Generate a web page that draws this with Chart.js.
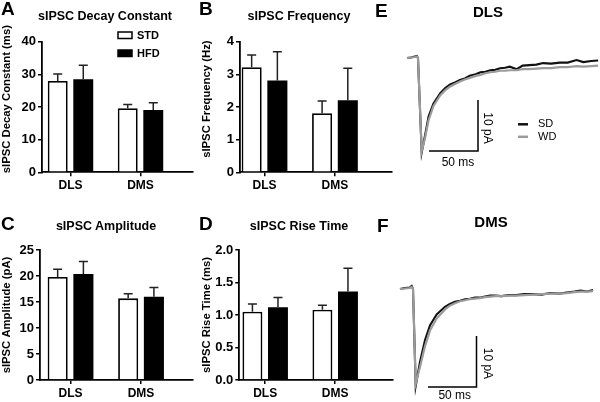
<!DOCTYPE html>
<html>
<head>
<meta charset="utf-8">
<script src="https://cdn.jsdelivr.net/npm/chart.js@4.4.0/dist/chart.umd.min.js"></script>
<style>
  body { margin: 0; background: #fff; }
  #fig { position: relative; width: 600px; height: 402px; overflow: hidden; font-family: "Liberation Sans", Arial, sans-serif; color: #000; }
  #fig canvas { position: absolute; }
  .letter { position: absolute; font-weight: bold; font-size: 19px; line-height: 1; }
  .ptitle { position: absolute; width: 200px; text-align: center; font-weight: bold; font-size: 12.5px; line-height: 1; white-space: nowrap; }
  .ttitle { position: absolute; width: 100px; text-align: center; font-weight: bold; font-size: 15px; line-height: 1; }
</style>
</head>
<body>
<div id="fig">
  <canvas id="cA" width="200" height="200" style="left:0;top:0"></canvas>
  <canvas id="cB" width="200" height="200" style="left:200px;top:0"></canvas>
  <canvas id="cC" width="200" height="202" style="left:0;top:200px"></canvas>
  <canvas id="cD" width="200" height="202" style="left:200px;top:200px"></canvas>
  <canvas id="cE" width="230" height="200" style="left:370px;top:0"></canvas>
  <canvas id="cF" width="230" height="202" style="left:370px;top:200px"></canvas>

  <div class="letter" style="left:1px;top:-1px">A</div>
  <div class="letter" style="left:199px;top:-1px">B</div>
  <div class="letter" style="left:1px;top:214px">C</div>
  <div class="letter" style="left:199px;top:214px">D</div>
  <div class="letter" style="left:375px;top:1px">E</div>
  <div class="letter" style="left:377px;top:216px">F</div>

  <div class="ptitle" style="left:5px;top:10px">sIPSC Decay Constant</div>
  <div class="ptitle" style="left:199px;top:10px">sIPSC Frequency</div>
  <div class="ptitle" style="left:6px;top:220px">sIPSC Amplitude</div>
  <div class="ptitle" style="left:199px;top:220px">sIPSC Rise Time</div>
  <div class="ttitle" style="left:438px;top:4px">DLS</div>
  <div class="ttitle" style="left:441px;top:214px">DMS</div>
</div>

<script>
// bar panels: mean and SEM per region
const groups = ['DLS', 'DMS'];
const diets = ['STD', 'HFD'];

const decayStd = [28.0, 19.6];
const decayStdSem = [2.1, 1.2];
const decayHfd = [28.5, 19.1];
const decayHfdSem = [4.3, 2.2];

const freqStd = [3.22, 1.81];
const freqStdSem = [0.37, 0.37];
const freqHfd = [2.81, 2.21];
const freqHfdSem = [0.88, 0.98];

const ampStd = [19.8, 15.7];
const ampStdSem = [1.5, 0.9];
const ampHfd = [20.4, 16.0];
const ampHfdSem = [2.4, 1.8];

const riseStd = [1.05, 1.08];
const riseStdSem = [0.12, 0.07];
const riseHfd = [1.12, 1.36];
const riseHfdSem = [0.15, 0.36];

// averaged sIPSC traces (ms, pA from baseline)
const traceLegend = ['SD', 'WD'];
const dlsTime = [0, 4, 8, 10, 11.2, 15, 18.5, 22, 27, 34, 39, 44, 49, 54, 59, 64, 70, 75, 80, 85, 90, 95, 100, 105, 112, 118, 125, 132, 139, 147, 156, 164, 173, 180, 188, 195];
const dlsSd = [0, 0.1, 0.3, 0.4, 0, -18.5, -15.1, -11.5, -8.9, -6.9, -5.9, -5.2, -4.8, -4.3, -4.0, -3.5, -3.2, -2.8, -2.7, -2.4, -2.3, -2.0, -1.9, -1.7, -2.2, -1.5, -1.4, -1.3, -1.0, -1.1, -0.9, -0.9, -0.4, -0.8, -0.6, -0.5];
const dlsWd = [0, 0.1, 0.2, 0.3, 0, -18.3, -15.6, -12.2, -9.4, -7.3, -6.3, -5.6, -5.1, -4.6, -4.2, -3.9, -3.5, -3.3, -3.0, -2.8, -2.7, -2.5, -2.5, -2.4, -2.4, -2.2, -2.2, -2.1, -2.0, -2.0, -1.8, -1.8, -1.6, -1.7, -1.6, -1.5];

const dmsTime = [0, 5, 10, 12, 13.4, 16.2, 20.6, 25.8, 31, 37.8, 46.4, 51, 56.7, 62, 67, 72, 77.3, 82, 87.6, 93, 98, 105, 112, 120, 128, 137, 146, 155, 164, 172, 180, 186, 193, 199];
const dmsSd = [0, 0.2, 0.3, 0.6, 0, -19.0, -14.3, -10.0, -7.1, -5.0, -3.5, -3.0, -2.5, -2.3, -2.0, -1.9, -1.7, -1.7, -1.5, -1.3, -1.3, -1.4, -1.2, -1.2, -1.0, -1.0, -1.1, -0.8, -0.9, -0.7, -0.5, -0.3, -0.5, -0.2];
const dmsWd = [0, 0.1, 0.2, 0.4, 0, -18.6, -15.3, -11.2, -8.1, -5.8, -4.0, -3.3, -2.8, -2.4, -2.2, -2.0, -1.9, -1.8, -1.6, -1.5, -1.4, -1.4, -1.3, -1.3, -1.2, -1.1, -1.0, -0.9, -0.9, -0.8, -0.6, -0.5, -0.5, -0.4];

const scaleMs = 50;
const scalePa = 10;

const FONT = '"Liberation Sans", Arial, sans-serif';
Chart.defaults.font.family = FONT;
Chart.defaults.color = '#000';

// upward SEM bars on top of each bar
const errorBars = {
  id: 'errorBars',
  afterDatasetsDraw(chart) {
    const ctx = chart.ctx;
    const y = chart.scales.y;
    ctx.save();
    ctx.strokeStyle = '#222';
    ctx.lineWidth = 1.5;
    chart.data.datasets.forEach((ds, di) => {
      chart.getDatasetMeta(di).data.forEach((bar, i) => {
        const top = y.getPixelForValue(ds.data[i].y + ds.sem[i]);
        ctx.beginPath();
        ctx.moveTo(bar.x, bar.y);
        ctx.lineTo(bar.x, top);
        ctx.moveTo(bar.x - 4.5, top);
        ctx.lineTo(bar.x + 4.5, top);
        ctx.stroke();
      });
    });
    ctx.restore();
  }
};

// little box legend used in panel A
const boxLegend = {
  id: 'boxLegend',
  afterDraw(chart) {
    const ctx = chart.ctx;
    const x = chart.chartArea.left + 76;
    ctx.save();
    ctx.font = 'bold 11px ' + FONT;
    ctx.textBaseline = 'middle';
    chart.data.datasets.forEach((ds, i) => {
      const y = 32 + i * 18;
      ctx.fillStyle = ds.backgroundColor;
      ctx.fillRect(x, y, 14, 6.5);
      ctx.strokeStyle = '#000';
      ctx.lineWidth = 1.5;
      ctx.strokeRect(x, y, 14, 6.5);
      ctx.fillStyle = '#000';
      ctx.fillText(ds.label, x + 19, y + 3.5);
    });
    ctx.restore();
  }
};

function barPanel(id, p) {
  const mk = (vals) => groups.map((g, i) => ({ x: i + 1, y: vals[i] }));
  // leading no-break spaces nudge the axis title up, like the original layout
  const lift = '\u00a0'.repeat(p.lift || 0);
  return new Chart(document.getElementById(id), {
    type: 'bar',
    data: {
      datasets: [
        { label: diets[0], data: mk(p.std), sem: p.stdSem, backgroundColor: '#fff', borderColor: '#000', borderWidth: 1.8 },
        { label: diets[1], data: mk(p.hfd), sem: p.hfdSem, backgroundColor: '#000', borderColor: '#000', borderWidth: 0 }
      ]
    },
    options: {
      responsive: false,
      animation: false,
      events: [],
      datasets: { bar: { categoryPercentage: 0.73, barPercentage: 0.78 } },
      layout: { padding: { top: p.top, right: p.right, left: 0, bottom: 0 } },
      plugins: { legend: { display: false }, tooltip: { enabled: false }, title: { display: false } },
      scales: {
        x: {
          type: 'linear', min: p.xMin, max: p.xMax, offset: false,
          afterBuildTicks: s => { s.ticks = groups.map((g, i) => ({ value: i + 1 })); },
          afterFit: s => { s.height = p.xh; },
          ticks: { callback: v => groups[v - 1], color: '#000', font: { size: 12, weight: 'bold' }, padding: 2, autoSkip: false, maxRotation: 0 },
          grid: { drawOnChartArea: false, offset: false, tickLength: 4, color: '#000', lineWidth: 1.5 },
          border: { color: '#000', width: 1.8 }
        },
        y: {
          min: 0, max: p.yMax,
          afterFit: s => { s.width = p.yw; },
          ticks: { stepSize: p.step, callback: v => p.dec ? v.toFixed(1) : v, color: '#000', font: { size: 13, weight: 'bold' }, padding: 2 },
          grid: { drawOnChartArea: false, tickLength: 4, color: '#000', lineWidth: 1.5 },
          border: { color: '#000', width: 1.8 },
          title: { display: true, text: lift + p.yTitle, color: '#000', font: { size: 11.3, weight: 'bold' }, padding: 0 }
        }
      }
    },
    plugins: [errorBars].concat(p.extra || [])
  });
}

barPanel('cA', { std: decayStd, stdSem: decayStdSem, hfd: decayHfd, hfdSem: decayHfdSem,
  yMax: 40, step: 10, yTitle: 'sIPSC Decay Constant (ms)', xMin: 0.593, xMax: 2.75,
  top: 41.7, right: 7, yw: 42, xh: 27.7, lift: 5, extra: [boxLegend] });
barPanel('cB', { std: freqStd, stdSem: freqStdSem, hfd: freqHfd, hfdSem: freqHfdSem,
  yMax: 4, step: 1, yTitle: 'sIPSC Frequency (Hz)', xMin: 0.652, xMax: 2.81,
  top: 41.7, right: 8, yw: 40, xh: 27.7, lift: 5 });
barPanel('cC', { std: ampStd, stdSem: ampStdSem, hfd: ampHfd, hfdSem: ampHfdSem,
  yMax: 25, step: 5, yTitle: 'sIPSC Amplitude (pA)', xMin: 0.567, xMax: 2.737,
  top: 50, right: 7, yw: 40, xh: 22 });
barPanel('cD', { std: riseStd, stdSem: riseStdSem, hfd: riseHfd, hfdSem: riseHfdSem,
  yMax: 2, step: 0.5, dec: true, yTitle: 'sIPSC Rise Time (ms)', xMin: 0.63, xMax: 2.826,
  top: 50, right: 7, yw: 39.3, xh: 22 });

// scale bar captions and trace legend
const scaleBarText = {
  id: 'scaleBarText',
  afterDatasetsDraw(chart, args, o) {
    const pts = chart.getDatasetMeta(2).data;
    const h0 = pts[0], c = pts[1], v1 = pts[2];
    const ctx = chart.ctx;
    ctx.save();
    ctx.fillStyle = '#000';
    ctx.font = '12px ' + FONT;
    ctx.textAlign = 'center';
    ctx.textBaseline = 'middle';
    ctx.fillText(scaleMs + ' ms', (h0.x + c.x) / 2 + o.msDx, c.y + o.msDy);
    ctx.save();
    ctx.translate(c.x + o.paDx, (c.y + v1.y) / 2 + o.paDy);
    ctx.rotate(Math.PI / 2);
    ctx.fillText(scalePa + ' pA', 0, 0);
    ctx.restore();
    if (o.legend) {
      const cols = ['#111', '#9b9b9b'];
      ctx.font = '11px ' + FONT;
      ctx.textAlign = 'left';
      traceLegend.forEach((t, i) => {
        const y = o.legend.y + i * 12.5;
        ctx.strokeStyle = cols[i];
        ctx.lineWidth = 2.5;
        ctx.beginPath();
        ctx.moveTo(o.legend.x, y);
        ctx.lineTo(o.legend.x + 10, y);
        ctx.stroke();
        ctx.fillStyle = '#000';
        ctx.fillText(t, o.legend.x + 20, y);
      });
    }
    ctx.restore();
  }
};

function tracePanel(id, p) {
  const mk = (vals) => p.time.map((t, i) => ({ x: t, y: vals[i] }));
  return new Chart(document.getElementById(id), {
    type: 'line',
    data: {
      datasets: [
        { label: traceLegend[1], data: mk(p.wd), borderColor: '#9b9b9b', borderWidth: 2.2 },
        { label: traceLegend[0], data: mk(p.sd), borderColor: '#111', borderWidth: 2.1 },
        { label: 'scale', data: [{ x: p.barX - scaleMs, y: p.barY }, { x: p.barX, y: p.barY }, { x: p.barX, y: p.barY + scalePa }],
          borderColor: '#000', borderWidth: 1.5 }
      ]
    },
    options: {
      responsive: false,
      animation: false,
      events: [],
      elements: { point: { radius: 0 }, line: { tension: 0, fill: false } },
      layout: { padding: 0 },
      plugins: { legend: { display: false }, tooltip: { enabled: false }, scaleBarText: p.text },
      scales: {
        x: { type: 'linear', display: false, min: p.xMin, max: p.xMax },
        y: { type: 'linear', display: false, min: p.yMin, max: p.yMax }
      }
    },
    plugins: [scaleBarText]
  });
}

tracePanel('cE', { time: dlsTime, sd: dlsSd, wd: dlsWd, xMin: -37.76, xMax: 196.94, yMin: -27.84, yMax: 11.37,
  barX: 72.45, barY: -18.24,
  text: { msDx: 4.5, msDy: 11.5, paDx: 9.5, paDy: 2.5, legend: { x: 148, y: 124.3 } } });
tracePanel('cF', { time: dmsTime, sd: dmsSd, wd: dmsWd, xMin: -30.93, xMax: 206.19, yMin: -22.16, yMax: 17.45,
  barX: 78.87, barY: -19.2,
  text: { msDx: 2.5, msDy: 8.5, paDx: 11, paDy: 2 } });
</script>
</body>
</html>
